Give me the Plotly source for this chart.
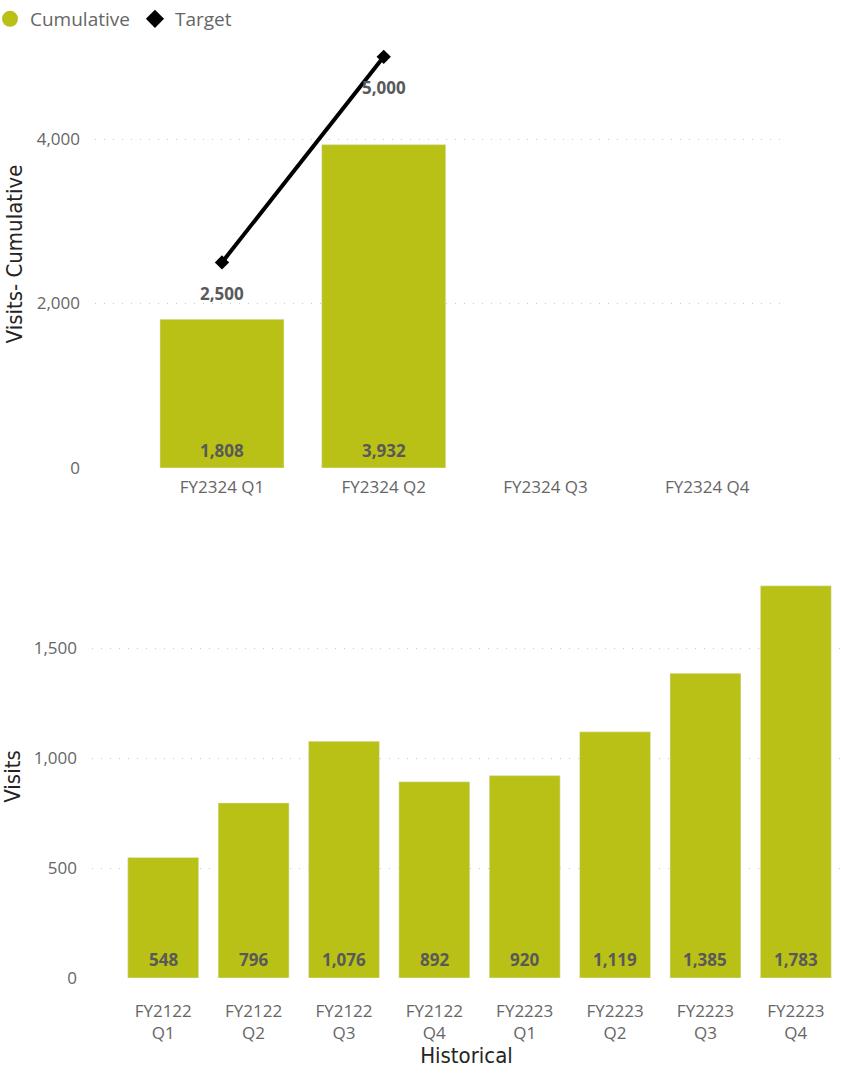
import plotly.graph_objects as go

# ---- data ----
cur_quarters = ["FY2324 Q1", "FY2324 Q2", "FY2324 Q3", "FY2324 Q4"]
cumulative = [1808, 3932, None, None]
target = [2500, 5000, None, None]

hist_quarters = ["FY2122<br>Q1", "FY2122<br>Q2", "FY2122<br>Q3", "FY2122<br>Q4",
                 "FY2223<br>Q1", "FY2223<br>Q2", "FY2223<br>Q3", "FY2223<br>Q4"]
hist_visits = [548, 796, 1076, 892, 920, 1119, 1385, 1783]

OLIVE = "#B9C116"
LABEL = "#595959"
TICK = "#666666"
GRID = "#C8C8C8"
TITLE = "#252423"
W, H = 843, 1068

def fmt(v):
    return "" if v is None else f"{v:,}"

label_font = dict(family="Open Sans", size=17, color=LABEL, weight="bold")

fig = go.Figure()

# top chart: cumulative bars
fig.add_trace(go.Bar(
    x=cur_quarters, y=cumulative, marker_color=OLIVE, width=0.767,
    showlegend=False, xaxis="x", yaxis="y",
))
# bar labels at the base of each bar
for q, v in zip(cur_quarters, cumulative):
    if v is not None:
        fig.add_annotation(x=q, y=0, xref="x", yref="y", text=fmt(v),
                           showarrow=False, yshift=18, font=label_font)

# top chart: target line
fig.add_trace(go.Scatter(
    x=cur_quarters, y=target, mode="lines+markers",
    line=dict(color="black", width=4),
    marker=dict(symbol="diamond", size=11, color="black"),
    showlegend=False, xaxis="x", yaxis="y", cliponaxis=False,
))
# target data labels (placed below the markers)
for q, v in zip(cur_quarters, target):
    if v is not None:
        fig.add_annotation(x=q, y=v, xref="x", yref="y", text=fmt(v),
                           showarrow=False, yshift=-31, font=label_font)

# bottom chart: historical bars
fig.add_trace(go.Bar(
    x=hist_quarters, y=hist_visits, marker_color=OLIVE, width=0.785,
    showlegend=False, xaxis="x2", yaxis="y2",
))
for q, v in zip(hist_quarters, hist_visits):
    fig.add_annotation(x=q, y=0, xref="x2", yref="y2", text=fmt(v),
                       showarrow=False, yshift=19, font=label_font)

# legend entries
fig.add_trace(go.Scatter(x=[None], y=[None], mode="markers", name="Cumulative",
                         marker=dict(symbol="circle", size=16, color=OLIVE)))
fig.add_trace(go.Scatter(x=[None], y=[None], mode="markers", name="Target",
                         marker=dict(symbol="diamond", size=14, color="black")))

def px_x(a, b):
    return [a / W, b / W]

def px_y(top, bottom):
    return [1 - bottom / H, 1 - top / H]

tickfont = dict(family="Open Sans", size=17, color=TICK)
title_font = dict(family="DejaVu Sans Condensed", size=22, color=TITLE)

fig.update_layout(
    width=W, height=H, margin=dict(l=0, r=0, t=0, b=0, autoexpand=False),
    paper_bgcolor="white", plot_bgcolor="white",
    font=dict(family="Open Sans"),
    legend=dict(orientation="h", x=-10 / W, y=1.0, xanchor="left", yanchor="top",
                font=dict(family="Open Sans", size=19, color=TICK),
                itemwidth=30, tracegroupgap=0, itemsizing="trace",
                bgcolor="rgba(0,0,0,0)"),
    xaxis=dict(domain=px_x(95, 780), range=[-0.785, 3.45], type="category",
               showgrid=False, anchor="y", automargin=False, showline=False,
               zeroline=False, ticks="", tickfont=tickfont, ticklabelstandoff=7),
    yaxis=dict(domain=px_y(40, 468), range=[0, 5204], tickvals=[0, 2000, 4000],
               tickformat=",", showgrid=True, gridcolor=GRID, griddash="1px,8px",
               gridwidth=1, anchor="x", ticklabelstandoff=14, automargin=False,
               showline=False, zeroline=False, ticks="", tickfont=tickfont,
               title=dict(text="Visits- Cumulative", standoff=8, font=title_font)),
    xaxis2=dict(domain=px_x(92, 841), range=[-0.788, 7.5], type="category",
                showgrid=False, anchor="y2", automargin=False, showline=False,
                zeroline=False, ticks="", tickfont=tickfont, ticklabelstandoff=21,
                title=dict(text="Historical", standoff=2, font=title_font)),
    yaxis2=dict(domain=px_y(575, 978), range=[0, 1832], tickvals=[0, 500, 1000, 1500],
                tickformat=",", showgrid=True, gridcolor=GRID, griddash="1px,8px",
                gridwidth=1, anchor="x2", ticklabelstandoff=14, automargin=False,
                showline=False, zeroline=False, ticks="", tickfont=tickfont,
                title=dict(text="Visits", standoff=8, font=title_font)),
)

fig.write_html("out.html")
